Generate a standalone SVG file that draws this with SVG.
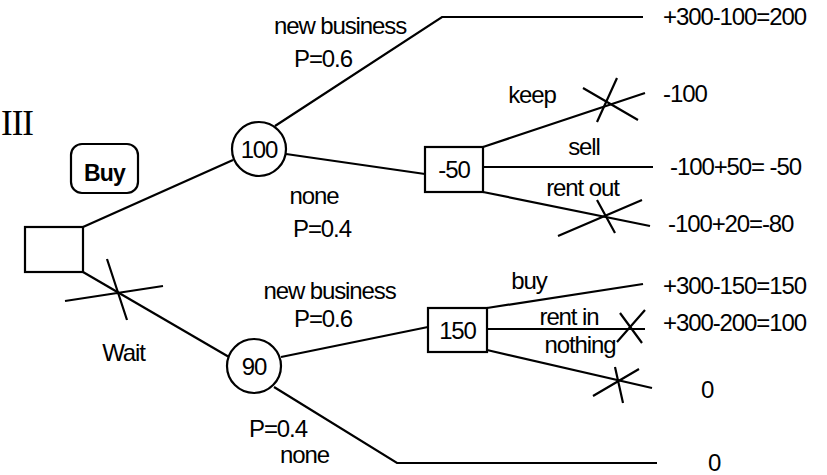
<svg xmlns="http://www.w3.org/2000/svg" width="827" height="475" viewBox="0 0 827 475">
<style>
text{font-family:"Liberation Sans",Arial,sans-serif;font-size:24px;fill:#000;letter-spacing:-1.1px}
.m{text-anchor:middle}
.ln{stroke:#000;stroke-width:2.2;fill:none}
.nd{stroke:#000;stroke-width:2.2;fill:#fff}
</style>
<rect width="827" height="475" fill="#fff"/>
<text x="1" y="135" style="font-family:'Liberation Serif','Times New Roman',serif;font-size:35px;letter-spacing:-1px">III</text>
<g id="connectors" class="ln">
<path d="M83,227 L233,160"/>
<path d="M83,272 L229,357"/>
<path d="M65,301 L163,286 M107,259 L127,320"/>
<path d="M275,126 L442,17 L643,17"/>
<path d="M286,154 L425,174"/>
<path d="M483,147 L645,93"/>
<path d="M583,88 L638,120 M617,78 L597,122"/>
<path d="M483,167 L653,167"/>
<path d="M483,192 L650,226"/>
<path d="M558,236 L642,200 M597,200 L615,233"/>
<path d="M281,357 L428,327"/>
<path d="M274,387 L397,463 L657,463"/>
<path d="M487,308 L643,284"/>
<path d="M487,329 L645,329"/>
<path d="M617,342 L645,310 M620,313 L642,343"/>
<path d="M487,350 L652,388"/>
<path d="M593,396 L639,369 M615,367 L623,403"/>
</g>
<g id="root"><rect class="nd" x="25" y="227" width="58" height="45"/></g>
<g id="buy-label"><rect class="nd" x="71" y="144" width="67" height="49" rx="11"/><text class="m" x="104.5" y="181" style="font-weight:bold;font-size:23px;letter-spacing:-0.8px">Buy</text></g>
<g id="chance100"><circle class="nd" cx="259" cy="149" r="27"/><text class="m" x="259" y="158">100</text></g>
<g id="decision-50"><rect class="nd" x="425" y="147" width="58" height="45"/><text class="m" x="454" y="178">-50</text></g>
<g id="chance90"><circle class="nd" cx="254" cy="366" r="27"/><text class="m" x="254" y="375">90</text></g>
<g id="decision150"><rect class="nd" x="428" y="308" width="59" height="44"/><text class="m" x="457.5" y="339">150</text></g>
<g id="labels">
<text class="m" x="340" y="34">new business</text>
<text class="m" x="323" y="67">P=0.6</text>
<text class="m" x="314" y="204">none</text>
<text class="m" x="322" y="237">P=0.4</text>
<text class="m" x="532" y="103">keep</text>
<text class="m" x="584" y="155">sell</text>
<text class="m" x="582.5" y="196">rent out</text>
<text class="m" x="123.5" y="361">Wait</text>
<text class="m" x="329.5" y="299">new business</text>
<text class="m" x="323" y="327">P=0.6</text>
<text class="m" x="278" y="437">P=0.4</text>
<text class="m" x="304.5" y="463">none</text>
<text class="m" x="529" y="289">buy</text>
<text class="m" x="569" y="325">rent in</text>
<text class="m" x="580" y="353">nothing</text>
</g>
<g id="outcomes">
<text x="663" y="25">+300-100=200</text>
<text x="663" y="102">-100</text>
<text x="670" y="175">-100+50= -50</text>
<text x="668" y="232">-100+20=-80</text>
<text x="663" y="294">+300-150=150</text>
<text x="663" y="331">+300-200=100</text>
<text class="m" x="707" y="398">0</text>
<text class="m" x="714" y="471">0</text>
</g>
</svg>
